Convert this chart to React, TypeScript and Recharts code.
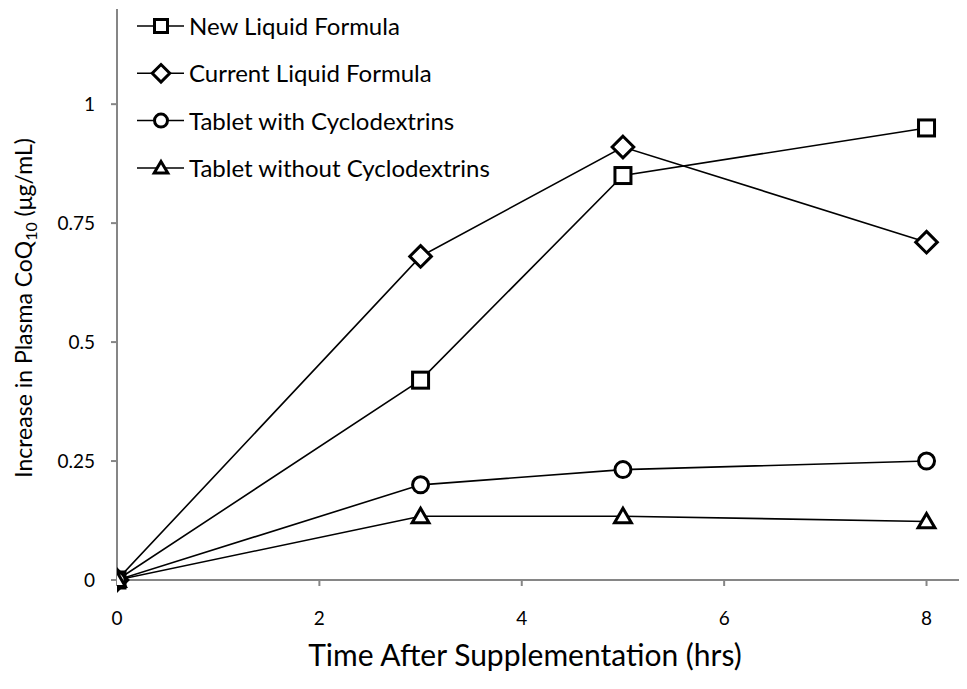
import { LineChart, Line, XAxis, YAxis } from 'recharts'

const hours = [0, 3, 5, 8]
const newLiquid = [0, 0.42, 0.85, 0.95]
const currentLiquid = [0, 0.68, 0.91, 0.71]
const tabletWith = [0, 0.2, 0.232, 0.25]
const tabletWithout = [0, 0.134, 0.134, 0.123]
const xTicks = [0, 2, 4, 6, 8]
const yTicks = [0, 0.25, 0.5, 0.75, 1]

const seriesNames = [
  'New Liquid Formula',
  'Current Liquid Formula',
  'Tablet with Cyclodextrins',
  'Tablet without  Cyclodextrins',
]
const seriesShapes = ['square', 'diamond', 'circle', 'triangle']

const data = hours.map((h, i) => ({
  h,
  a: newLiquid[i],
  b: currentLiquid[i],
  c: tabletWith[i],
  d: tabletWithout[i],
}))

const FONT = 'Lato, "Open Sans", sans-serif'
const AXIS = '#868686'

function Marker({ shape, cx, cy, r, sw = 3 }: { shape: string; cx: number; cy: number; r: number; sw?: number }) {
  const common = { fill: '#fff', stroke: '#000', strokeWidth: sw }
  if (shape === 'square') return <rect x={cx - r} y={cy - r} width={r * 2} height={r * 2} {...common} />
  if (shape === 'diamond') {
    const d = r * 1.35
    return <polygon points={`${cx},${cy - d} ${cx + d},${cy} ${cx},${cy + d} ${cx - d},${cy}`} {...common} />
  }
  if (shape === 'circle') return <circle cx={cx} cy={cy} r={r} {...common} />
  return (
    <polygon
      points={`${cx},${cy - r} ${cx + r * 1.05},${cy + r * 0.8} ${cx - r * 1.05},${cy + r * 0.8}`}
      {...common}
    />
  )
}

const makeDot = (shape: string) => (props: any) => {
  const { cx, cy, index } = props
  if (cx == null || cy == null) return <g key={index} />
  return (
    <g key={index}>
      <Marker shape={shape} cx={cx} cy={cy} r={8} />
    </g>
  )
}

function LegendBox() {
  return (
    <svg width={600} height={200} style={{ position: 'absolute', left: 0, top: 0, pointerEvents: 'none' }}>
      {seriesNames.map((name, i) => {
        const y = 26 + i * 47.3
        return (
          <g key={name}>
            <line x1={137} x2={184} y1={y} y2={y} stroke="#000" strokeWidth={1.5} />
            <Marker shape={seriesShapes[i]} cx={161} cy={y} r={6.5} sw={3} />
            <text x={189} y={y + 9} fontSize={24} fontFamily={FONT} fill="#000">
              {name}
            </text>
          </g>
        )
      })}
    </svg>
  )
}

const YTick = ({ x, y, payload }: any) => (
  <text x={x - 14} y={y + 7} textAnchor="end" fontSize={19} fontFamily={FONT} fill="#000">
    {payload.value}
  </text>
)

const XTick = ({ x, y, payload }: any) => (
  <text x={x} y={y + 37} textAnchor="middle" fontSize={19} fontFamily={FONT} fill="#000">
    {payload.value}
  </text>
)

export default function App() {
  return (
    <div style={{ margin: -8, width: 967, height: 689, background: '#fff', position: 'relative' }}>
      <LineChart width={967} height={689} data={data} margin={{ top: 9, right: 0, left: 0, bottom: 0 }}>
        <XAxis
          dataKey="h"
          type="number"
          domain={[0, 8.4]}
          ticks={xTicks}
          allowDataOverflow
          height={109}
          stroke={AXIS}
          strokeWidth={2}
          tickSize={6}
          tick={<XTick />}
          label={({ viewBox }: any) => (
            <text x={525} y={viewBox.y + 86} textAnchor="middle" fontSize={30} fontFamily={FONT} fill="#000">
              Time After Supplementation (hrs)
            </text>
          )}
        />
        <YAxis
          type="number"
          domain={[0, 1.2]}
          ticks={yTicks}
          width={117}
          stroke={AXIS}
          strokeWidth={2}
          tickSize={6}
          tick={<YTick />}
          label={() => (
            <text
              x={0}
              y={0}
              transform="translate(32, 308) rotate(-90)"
              textAnchor="middle"
              fontSize={23}
              fontFamily={FONT}
              fill="#000"
            >
              Increase in Plasma CoQ
              <tspan fontSize={16} dy={5}>10</tspan>
              <tspan dy={-5}> (μg/mL)</tspan>
            </text>
          )}
        />
        <Line dataKey="a" stroke="#000" strokeWidth={1.6} isAnimationActive={false} dot={makeDot('square')} />
        <Line dataKey="b" stroke="#000" strokeWidth={1.6} isAnimationActive={false} dot={makeDot('diamond')} />
        <Line dataKey="c" stroke="#000" strokeWidth={1.6} isAnimationActive={false} dot={makeDot('circle')} />
        <Line dataKey="d" stroke="#000" strokeWidth={1.6} isAnimationActive={false} dot={makeDot('triangle')} />
      </LineChart>
      <LegendBox />
    </div>
  )
}
